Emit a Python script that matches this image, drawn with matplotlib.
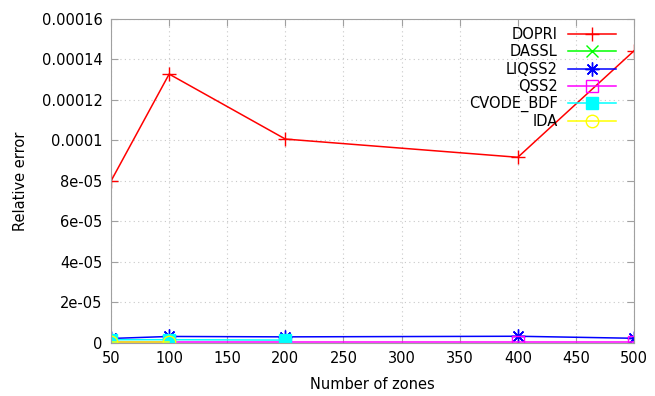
import matplotlib
matplotlib.use("Agg")
import matplotlib.pyplot as plt

# data
zones = [50, 100, 200, 400, 500]
dopri = [8.0e-05, 1.328e-04, 1.007e-04, 9.17e-05, 1.443e-04]
dassl_zones = [50, 100]
dassl = [6e-07, 6e-07]
liqss2 = [2.2e-06, 3.2e-06, 3.0e-06, 3.3e-06, 2.3e-06]
qss2 = [6e-07, 6e-07, 6e-07, 6e-07, 6e-07]
cvode_zones = [50, 100, 200]
cvode_bdf = [1.6e-06, 1.6e-06, 1.4e-06]
ida_zones = [50, 100]
ida = [7e-07, 7e-07]

xticks = [50, 100, 150, 200, 250, 300, 350, 400, 450, 500]
yticks = [0, 2e-05, 4e-05, 6e-05, 8e-05, 1e-04, 1.2e-04, 1.4e-04, 1.6e-04]
ytick_labels = ["0", "2e-05", "4e-05", "6e-05", "8e-05", "0.0001",
                "0.00012", "0.00014", "0.00016"]

plt.rcParams['font.family'] = ['DejaVu Sans']
fig = plt.figure(figsize=(6.55, 3.96), dpi=100)
ax = fig.add_axes([0.1695, 0.134, 0.7985, 0.818])

ax.plot(zones, dopri, color="#ff0000", lw=1.1, marker="+", ms=10, mew=1, label="DOPRI")
ax.plot(dassl_zones, dassl, color="#00ff00", lw=1.1, marker="x", ms=8, mew=1, label="DASSL")
ax.plot(zones, liqss2, color="#0000ff", lw=1.1, marker=(8, 2, 0), ms=10, mew=1, label="LIQSS2")
ax.plot(zones, qss2, color="#ff00ff", lw=1.1, marker="s", ms=8, mew=1, mfc="none", label="QSS2")
ax.plot(cvode_zones, cvode_bdf, color="#00ffff", lw=1.1, marker="s", ms=8, mew=1, label="CVODE_BDF")
ax.plot(ida_zones, ida, color="#ffff00", lw=1.1, marker="o", ms=9, mew=1, mfc="none", label="IDA")

ax.set_xlim(50, 500)
ax.set_ylim(0, 1.6e-04)
ax.set_xticks(xticks)
ax.set_yticks(yticks)
ax.set_yticklabels(ytick_labels)
ax.tick_params(direction="in", length=5, color="#a0a0a0", labelsize=10.5,
               top=True, right=True, pad=6)
for s in ax.spines.values():
    s.set_color("#a0a0a0")
ax.grid(True, color="#c8c8c8", linestyle=(0, (1, 3)), lw=0.8)

ax.set_xlabel("Number of zones", fontsize=10.5, labelpad=8)
ax.set_ylabel("Relative error", fontsize=10.5, labelpad=10)

ax.legend(loc="upper right", bbox_to_anchor=(0.979, 0.997), frameon=False,
          markerfirst=False, fontsize=10.5, handlelength=3.3, labelspacing=0.15,
          borderpad=0, handletextpad=0.7)

fig.savefig("out.png", dpi=100)
